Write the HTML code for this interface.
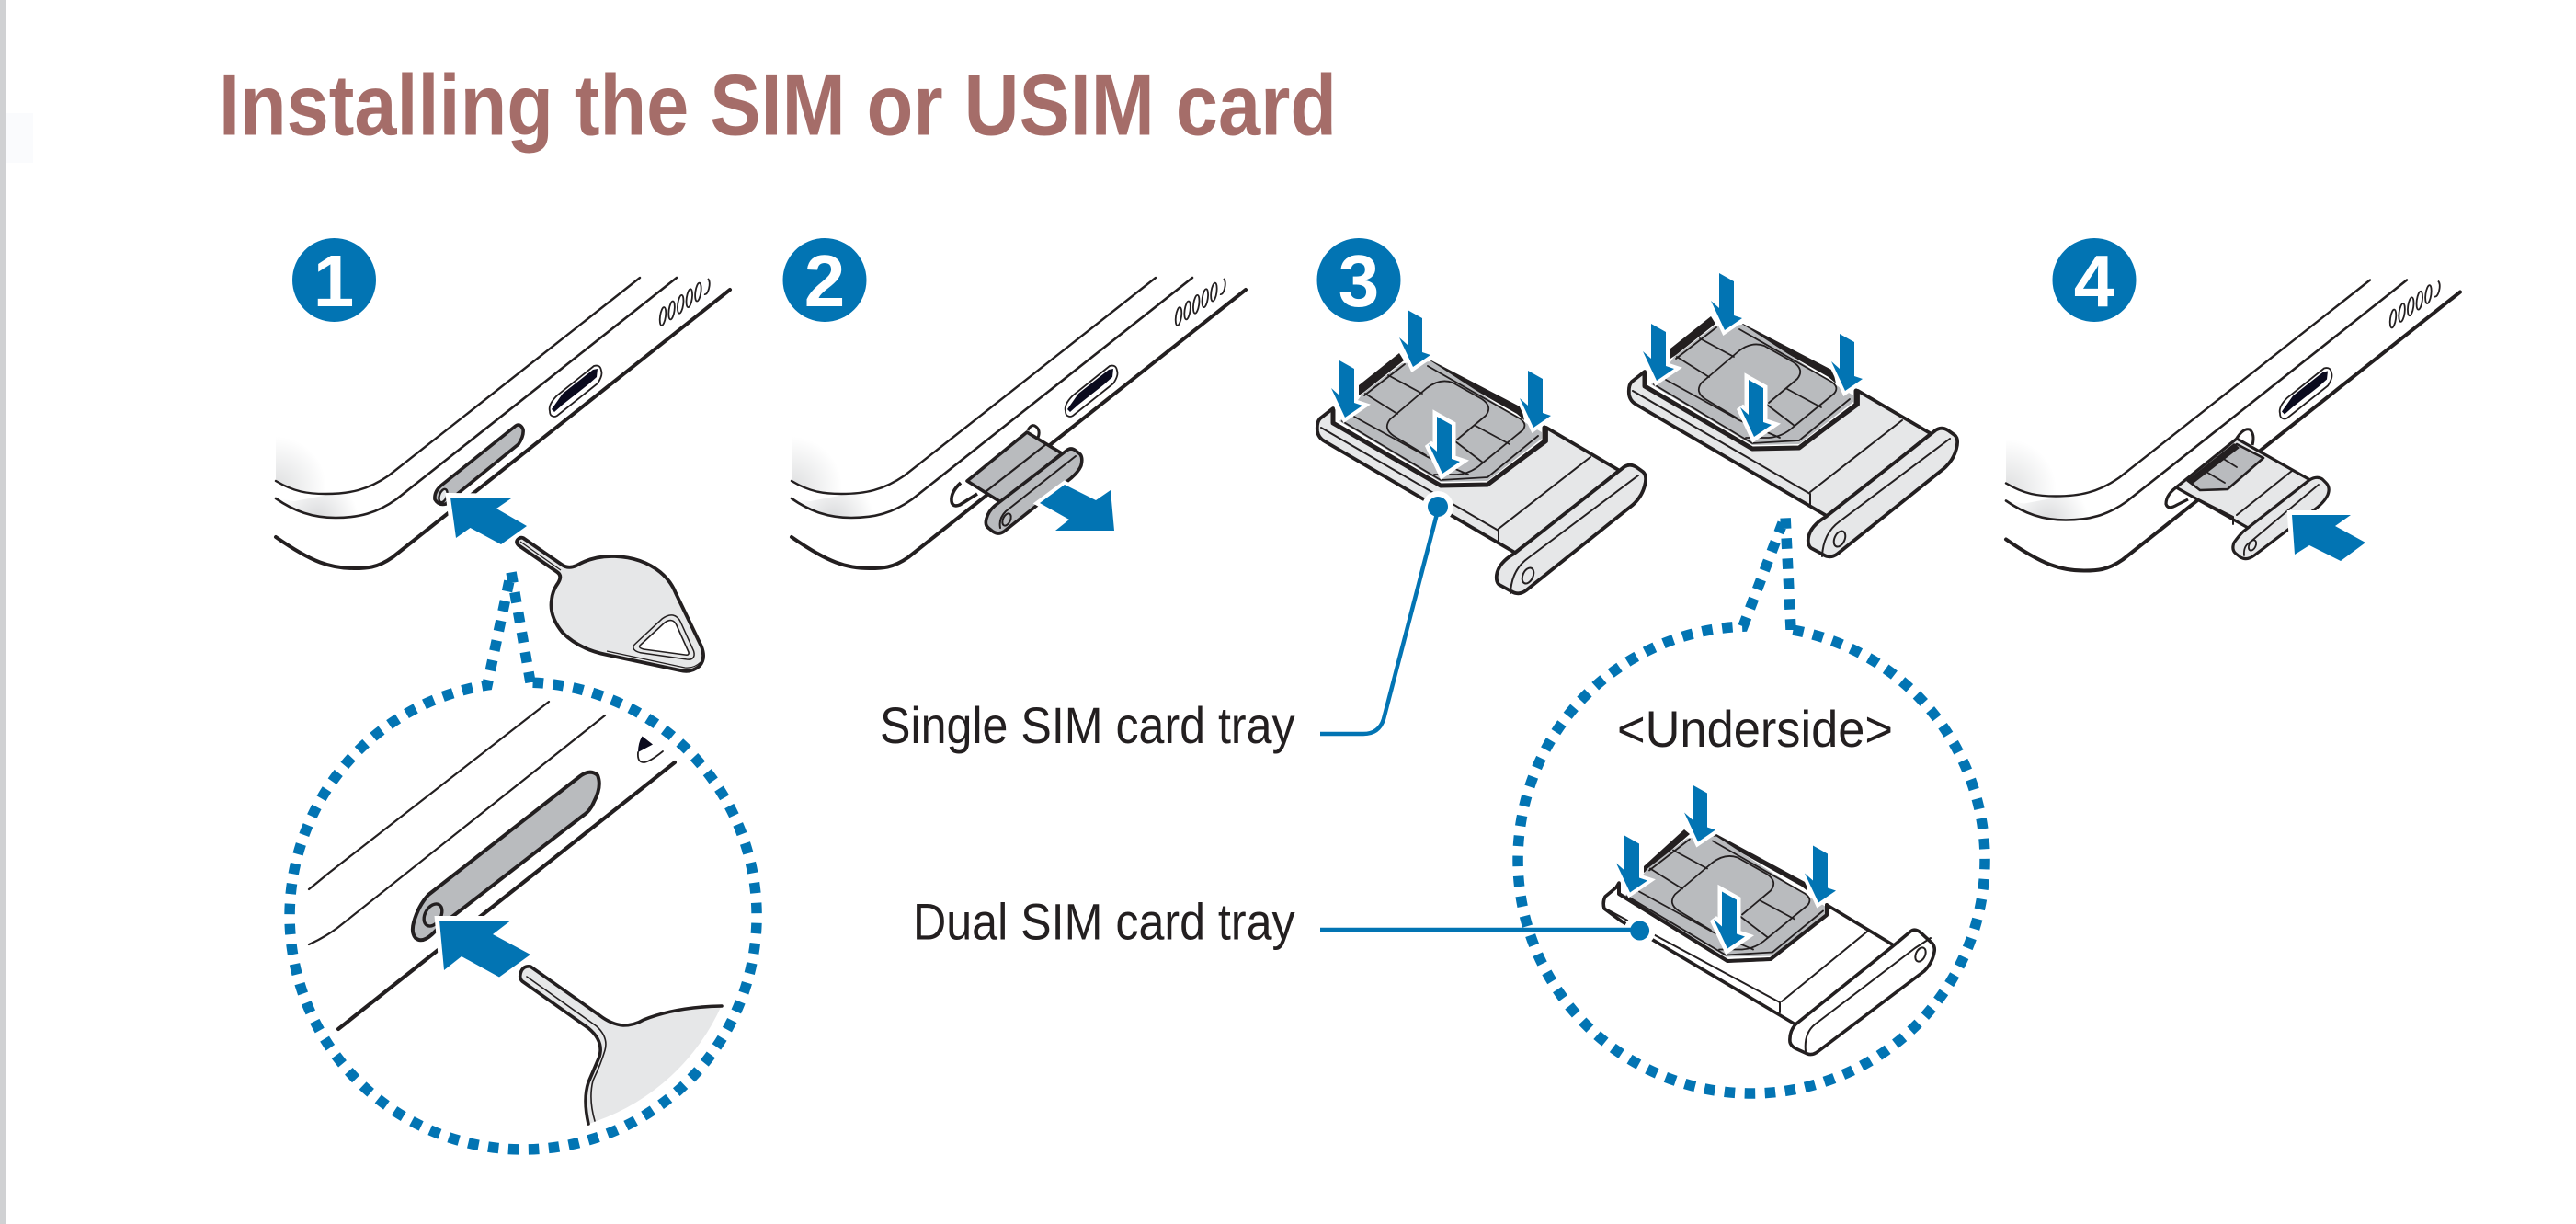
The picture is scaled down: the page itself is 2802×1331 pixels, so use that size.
<!DOCTYPE html>
<html><head><meta charset="utf-8"><title>Installing the SIM or USIM card</title>
<style>html,body{margin:0;padding:0;background:#fff}svg{display:block}
text{font-family:"Liberation Sans",sans-serif}
.k{fill:none;stroke:#231f20;stroke-linejoin:round;stroke-linecap:round}
.b{fill:#0274b3}
.dot{fill:none;stroke:#0274b3;stroke-width:11.5;stroke-dasharray:11.5 10.5}
.num{font-weight:bold;font-size:80px;fill:#fff;text-anchor:middle}
.lbl{font-size:56px;fill:#231f20}
</style></head><body>
<svg width="2802" height="1331" viewBox="0 0 2802 1331" xmlns="http://www.w3.org/2000/svg">
<defs>
<radialGradient id="g1" gradientUnits="userSpaceOnUse" cx="300" cy="530" r="55"><stop offset="0" stop-color="#dedfe0"/><stop offset="1" stop-color="#fff"/></radialGradient>
<radialGradient id="g2" gradientUnits="userSpaceOnUse" cx="345" cy="565" r="45"><stop offset="0" stop-color="#d8d9db"/><stop offset="1" stop-color="#fff"/></radialGradient>
<polygon id="arr" points="0,0 16,9 16,46 25,49 6,62 -9,30 0,38"/>
<g id="phone">
<path d="M300 475V523C320 535 335 537 354 537C380 537 400 533 423 517L440 500L340 470Z" fill="url(#g1)"/>
<path d="M300 542C320 556 340 563 365 563C390 563 410 558 431 543L400 530L320 545Z" fill="url(#g2)"/>
<path class="k" stroke-width="2.4" d="M696 302L423 517C400 533 380 537 354 537C335 537 320 535 300 523"/>
<path class="k" stroke-width="2.6" d="M736 302L431 543C410 558 390 563 365 563C340 563 320 556 300 542"/>
<path class="k" stroke-width="4" d="M794 315L427 606C410 618 398 618 385 618C360 618 340 612 300 584"/>
<path d="M600 452Q603 454 606 452L650 417Q656 408 654 403Q653 396 646 398L606 430Q596 440 598 447Q598 451 600 452Z" fill="#fff" stroke="#231f20" stroke-width="1.8"/>
<path d="M600 445L612 428L645 402L650 401L649 410L640 418L612 440L603 448Z" fill="#0a0a1e"/>
<g fill="#fff" stroke="#231f20" stroke-width="1.8">
<ellipse cx="721" cy="344" rx="3" ry="10" transform="rotate(8 721 344)"/>
<ellipse cx="730.6" cy="337.4" rx="3" ry="10" transform="rotate(8 730.6 337.4)"/>
<ellipse cx="740.2" cy="330.8" rx="3" ry="10" transform="rotate(8 740.2 330.8)"/>
<ellipse cx="749.8" cy="324.2" rx="3" ry="10" transform="rotate(8 749.8 324.2)"/>
<ellipse cx="759.4" cy="317.6" rx="3" ry="10" transform="rotate(8 759.4 317.6)"/>
<path d="M770 303Q773 306 771 314Q769 321 766 320"/>
</g>
</g>
<g id="sim">
<path d="M1482 428L1525 395L1557 393L1660 460L1677 470V477L1618 523L1567 524L1457 458L1470 445Z" fill="#b9bbbe"/>
<path class="k" stroke-width="1.8" d="M1484 430L1528 396M1553 398L1653 455Q1662 461 1656 468L1612 504Q1600 515 1585 516L1560 516M1460 458L1567 522L1618 519L1673 474"/>
<path class="k" stroke-width="1.8" d="M1551 495L1516 474Q1504 466 1512 456L1552 422Q1566 411 1580 416L1612 434Q1624 442 1616 452L1585 478"/>
<path class="k" stroke-width="1.8" d="M1510 408L1547 428M1485 428L1520 450M1473 453L1553 497M1583 480L1613 503M1605 463L1642 483M1553 497L1597 516"/>
</g>
<g id="arrows">
<use href="#arr" x="1457" y="392" stroke="#fff" stroke-width="8" fill="#fff"/><use href="#arr" x="1457" y="392" class="b"/>
<use href="#arr" x="1531" y="337" stroke="#fff" stroke-width="8" fill="#fff"/><use href="#arr" x="1531" y="337" class="b"/>
<use href="#arr" x="1662" y="403" stroke="#fff" stroke-width="8" fill="#fff"/><use href="#arr" x="1662" y="403" class="b"/>
<use href="#arr" x="1563" y="453" stroke="#fff" stroke-width="9" fill="#fff"/><use href="#arr" x="1563" y="453" class="b"/>
</g>
<g id="tray">
<path d="M1450 444L1436 455Q1432 459 1433 469Q1434 476 1441 480L1648 601L1762 512L1682 465V480L1618 527L1567 528L1450 460Z" fill="#e6e7e8" stroke="#231f20" stroke-width="3.8" stroke-linejoin="round"/>
<path class="k" stroke-width="2" d="M1437 465L1630 577V589M1630 575L1730 497M1659 593L1758 513"/>
<path class="k" stroke-width="5" d="M1450 446V460L1567 528L1618 527L1680 480V465"/>
<path d="M1478 430V419L1522 384L1527 392L1484 426ZM1557 392L1655 443L1658 457L1650 450L1553 395Z" fill="#231f20"/>
<use href="#sim"/>
<path d="M1647 602L1765 509Q1772 503 1780 508L1787 513Q1792 517 1789 528Q1786 540 1776 549L1660 642Q1652 648 1644 643L1631 636Q1627 633 1628 625Q1630 612 1647 602Z" fill="#e6e7e8" stroke="#231f20" stroke-width="3.8" stroke-linejoin="round"/>
<path class="k" stroke-width="2" d="M1643 645Q1644 620 1662 607L1782 517"/>
<ellipse cx="1662" cy="626" rx="5.5" ry="9" transform="rotate(25 1662 626)" fill="#e6e7e8" stroke="#231f20" stroke-width="2"/>
<use href="#arrows"/>
</g>
</defs>

<rect width="2802" height="1331" fill="#fff"/>
<rect x="0" y="0" width="7" height="1331" fill="#d0d1d3"/>
<rect x="7" y="123" width="29" height="54" fill="#fafbfd"/>

<text x="238" y="146.7" font-size="94" font-weight="bold" fill="#a56d69" textLength="1216" lengthAdjust="spacingAndGlyphs">Installing the SIM or USIM card</text>

<!-- numbers -->
<g class="b"><circle cx="363.5" cy="304.5" r="45.5"/><circle cx="897" cy="304.5" r="45.5"/><circle cx="1478" cy="304.5" r="45.5"/><circle cx="2278" cy="304.5" r="45.5"/></g>
<text class="num" x="363" y="333">1</text><text class="num" x="897" y="333">2</text><text class="num" x="1478" y="333">3</text><text class="num" x="2278" y="333">4</text>

<!-- STEP 1 -->
<use href="#phone"/>
<path d="M481 527L561 463Q566 460 569 467Q570 474 564 483L500 535L485 548Q477 550 473 543Q472 534 481 527Z" fill="#b9bbbe" stroke="#231f20" stroke-width="3.6" stroke-linejoin="round"/>
<ellipse cx="482" cy="539" rx="4" ry="7.5" transform="rotate(20 482 539)" fill="#e6e7e8" stroke="#231f20" stroke-width="2.4"/>
<polygon points="490,541 556,542 540,553 573,572 545,592 511.5,574 496,585" fill="#fff" stroke="#fff" stroke-width="10"/>
<polygon class="b" points="490,541 556,542 540,553 573,572 545,592 511.5,574 496,585"/>
<path d="M569 585L611 614Q618 619 627 615Q646 604 669 605Q698 606 718 622Q730 632 735 645L763 703Q768 716 761 724Q752 732 740 729L660 712Q630 706 612 688Q597 670 600 652Q601 642 607 634Q612 626 606 622L564 593Q560 589 564 586Q566 584 569 585Z" fill="#e6e7e8" stroke="#231f20" stroke-width="3.8" stroke-linejoin="round"/>
<path d="M566 589L610 620" stroke="#231f20" stroke-width="1.2" fill="none"/>
<path d="M660 708L745 726Q755 727 762 720" stroke="#231f20" stroke-width="1.2" fill="none"/>
<path d="M693 702L722 675Q733 667 738 678L752 709Q754 716 746 714L697 707Q689 705 693 702Z" fill="#fff" stroke="#231f20" stroke-width="7"/>
<path d="M693 702L722 675Q733 667 738 678L752 709Q754 716 746 714L697 707Q689 705 693 702Z" fill="#fff" stroke="#e6e7e8" stroke-width="4"/>
<path d="M697 701L723 677Q732 671 736 680L749 709Q750 713 745 712L700 706Q693 704 697 701Z" fill="#fff" stroke="#231f20" stroke-width="1.6"/>
<path class="dot" d="M577 742.1L556 622L530 745A254 254 0 1 0 577 742.1"/>
<!-- zoomed detail -->
<path class="k" stroke-width="2.2" d="M597 763L358 949Q346 959 336 967"/>
<path class="k" stroke-width="2.2" d="M658 778L367 1009Q352 1020 336 1027"/>
<path class="k" stroke-width="4.2" stroke-linecap="butt" d="M734 829L368 1119"/>
<path d="M466 973L631 844Q642 836 650 843Q655 855 646 872Q642 882 634 887L480 1006L470 1016Q459 1026 452 1020Q447 1014 450 1003Q455 985 466 973Z" fill="#b9bbbe" stroke="#231f20" stroke-width="4" stroke-linejoin="round"/>
<ellipse cx="471" cy="995" rx="8.5" ry="13" transform="rotate(30 471 995)" fill="#b9bbbe" stroke="#231f20" stroke-width="3.4"/>
<polygon points="478,1001 555.6,1001 536,1016 577,1038 543,1062.5 502,1040 483,1055" fill="#fff" stroke="#fff" stroke-width="10"/>
<polygon class="b" points="478,1001 555.6,1001 536,1016 577,1038 543,1062.5 502,1040 483,1055"/>
<path d="M577 1051L652 1104Q665 1114 678 1115Q690 1115 700 1109Q735 1095 785 1093A235 235 0 0 1 649 1219L641 1222Q634 1195 640 1177L652 1149Q657 1132 640 1118L566 1066Q564 1058 572 1052Z" fill="#e6e7e8"/>
<path class="k" stroke-width="3.6" stroke-linecap="butt" d="M785 1094Q735 1095 700 1109Q690 1115 678 1115Q665 1114 652 1104L577 1051Q570 1050 567 1056Q564 1063 568 1067L640 1118Q657 1132 652 1149L640 1177Q634 1195 640 1222"/>
<path class="k" stroke-width="1.6" stroke-linecap="butt" d="M573 1062L649 1116Q662 1128 658 1142Q654 1156 645 1175Q640 1195 647 1219"/>
<path d="M698.5 800.5L710 809.5L694 818Q694 808 698.5 800.5Z" fill="#0a0a1e"/>
<path class="k" stroke-width="1.8" d="M694 818Q693 829 700 829Q706 829 721 817"/>

<!-- STEP 2 -->
<use href="#phone" x="561"/>
<path d="M1045 525Q1034 535 1035 545Q1036 552 1044 549L1063 537" fill="#fff" stroke="#231f20" stroke-width="3.6"/>
<path d="M1118 468Q1122 460 1127 464Q1132 468 1129 476" fill="#fff" stroke="#231f20" stroke-width="3"/>
<polygon points="1052,523 1117,470 1155,493 1090,547" fill="#b9bbbe" stroke="#231f20" stroke-width="3.6" stroke-linejoin="round"/>
<path class="k" stroke-width="2.2" d="M1073 534L1138 483M1055 525L1090 546"/>
<path d="M1082 550L1160 490Q1165 486 1170 490L1175 494Q1178 498 1176 506Q1174 512 1165 520L1092 578Q1086 582 1080 578L1075 574Q1071 571 1073 564Q1075 556 1082 550Z" fill="#b9bbbe" stroke="#231f20" stroke-width="3.6" stroke-linejoin="round"/>
<path class="k" stroke-width="2" d="M1088 574Q1086 564 1094 556L1170 496"/>
<ellipse cx="1095" cy="565" rx="4" ry="7" transform="rotate(25 1095 565)" fill="#b9bbbe" stroke="#231f20" stroke-width="2"/>
<polygon points="1158,527 1192,544 1208,533 1212,577 1148,577 1163,565 1131,547" fill="#fff" stroke="#fff" stroke-width="8"/>
<polygon class="b" points="1158,527 1192,544 1208,533 1212,577 1148,577 1163,565 1131,547"/>

<!-- STEP 3 -->
<use href="#tray"/>
<use href="#tray" x="339" y="-40"/>
<circle cx="1564" cy="551" r="17" fill="#fff"/>
<circle cx="1564" cy="551" r="11" class="b"/>
<path d="M1564 555L1505 782Q1500 798 1483 798H1436" fill="none" stroke="#0274b3" stroke-width="4.5"/>
<text class="lbl" x="957" y="808" textLength="451.6" lengthAdjust="spacingAndGlyphs">Single SIM card tray</text>
<text class="lbl" x="993" y="1021.7" textLength="415.6" lengthAdjust="spacingAndGlyphs">Dual SIM card tray</text>

<path class="dot" d="M1948 684.7L1942 561L1896 681.2A254 254 0 1 0 1948 684.7"/>
<text class="lbl" x="1759" y="812" textLength="300" lengthAdjust="spacingAndGlyphs">&lt;Underside&gt;</text>

<!-- underside tray -->
<path d="M1758 965L1746 975Q1743 981 1745 988L1764 1002L1953 1114L1987 1090L2060 1028L1987 984V995L1926 1043L1879 1045L1761 972V960Z" fill="#fff" stroke="#231f20" stroke-width="3.6" stroke-linejoin="round"/>
<path class="k" stroke-width="2" d="M1938 1089L2031 1013M1936 1090V1101M1965 1105L2059 1029M1750 990L1936 1090"/>
<path d="M1788 947L1788 940L1832 900L1838 905L1794 943Z M1867 905L1965 958V966L1960 962L1863 908Z" fill="#231f20" transform="translate(0,2)"/>
<g transform="translate(310,516.5)"><use href="#sim"/></g>
<path class="k" stroke-width="4" d="M1761 961V972L1879 1045L1926 1043L1987 995V984"/>
<path d="M1953 1114Q1946 1122 1947 1133Q1948 1138 1955 1141L1966 1146Q1972 1148 1978 1143L2093 1056Q2102 1047 2104 1035Q2105 1030 2102 1026L2089 1014Q2083 1009 2078 1013L2060 1028Z" fill="#fff" stroke="#231f20" stroke-width="3.6" stroke-linejoin="round"/>
<path class="k" stroke-width="2" d="M1964 1143Q1962 1124 1974 1114L2083 1031L2100 1020"/>
<ellipse cx="2089" cy="1038" rx="5" ry="8" transform="rotate(25 2089 1038)" fill="#fff" stroke="#231f20" stroke-width="2"/>
<g transform="translate(310,516.5)"><use href="#arrows"/></g>
<circle cx="1783.6" cy="1012" r="17" fill="#fff"/>
<path d="M1436 1011H1783" stroke="#0274b3" stroke-width="4.5"/>
<circle cx="1783.6" cy="1012" r="10.5" class="b"/>

<!-- STEP 4 -->
<use href="#phone" x="1882" y="2.5"/>
<path d="M2370 528Q2356 537 2356 548Q2358 555 2368 549L2380 543" fill="#fff" stroke="#231f20" stroke-width="3.2"/>
<path d="M2432 478Q2440 465 2447 467Q2453 472 2450 484" fill="#fff" stroke="#231f20" stroke-width="3"/>
<polygon points="2367,530 2433,477 2513,522 2447,575" fill="#e6e7e8" stroke="#231f20" stroke-width="3.2" stroke-linejoin="round"/>
<path class="k" stroke-width="2" d="M2433 560L2493 512M2429 562V570M2372 533L2429 562"/>
<polygon points="2380,523 2433,483 2462,498 2423,532 2393,533" fill="#b9bbbe" stroke="#231f20" stroke-width="2.6" stroke-linejoin="round"/>
<path d="M2378 523L2430 482L2436 487L2384 527Z" fill="#231f20"/>
<path class="k" stroke-width="1.8" d="M2417 498L2433 508M2398 512L2420 525"/>
<path d="M2430 590Q2435 583 2440 578L2512 522Q2520 517 2526 521L2530 525Q2535 530 2532 538Q2528 547 2515 556L2452 604Q2444 610 2437 606L2432 602Q2427 598 2430 590Z" fill="#e6e7e8" stroke="#231f20" stroke-width="3.2" stroke-linejoin="round"/>
<path class="k" stroke-width="1.8" d="M2441 604Q2440 594 2447 590L2522 527"/>
<ellipse cx="2450" cy="593" rx="3.6" ry="6" transform="rotate(25 2450 593)" fill="#e6e7e8" stroke="#231f20" stroke-width="1.8"/>
<polygon points="2493,560 2557,560 2540,572 2573,590 2546,610 2512,593 2496,603" fill="#fff" stroke="#fff" stroke-width="10"/>
<polygon class="b" points="2493,560 2557,560 2540,572 2573,590 2546,610 2512,593 2496,603"/>
</svg>
</body></html>
